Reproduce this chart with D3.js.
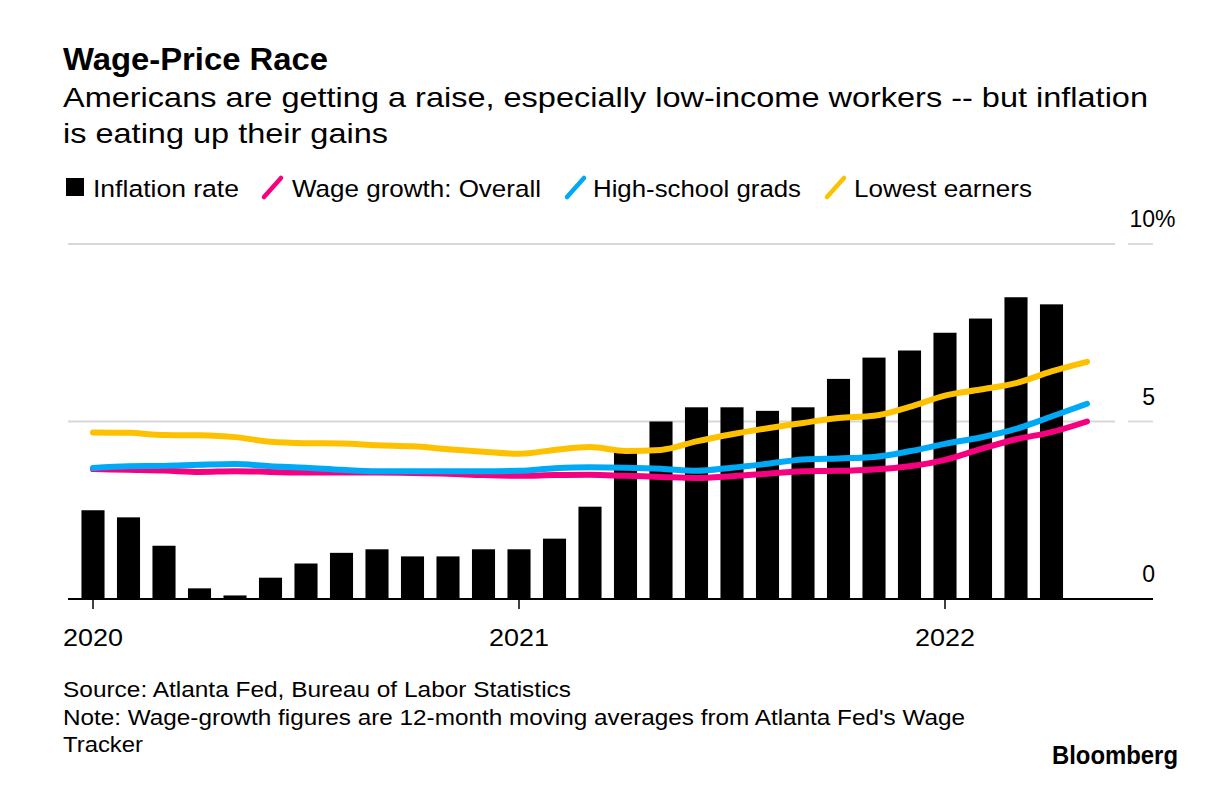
<!DOCTYPE html>
<html>
<head>
<meta charset="utf-8">
<script src="https://cdn.jsdelivr.net/npm/d3@7"></script>
<style>
  html, body { margin: 0; padding: 0; background: #fff; }
  svg { display: block; font-family: "Liberation Sans", Arial, Helvetica, sans-serif; }
</style>
</head>
<body>
<svg id="chart" width="1226" height="807"></svg>
<script>
// ---- data ----
const months = ["2020-01","2020-02","2020-03","2020-04","2020-05","2020-06","2020-07","2020-08","2020-09","2020-10","2020-11","2020-12",
                "2021-01","2021-02","2021-03","2021-04","2021-05","2021-06","2021-07","2021-08","2021-09","2021-10","2021-11","2021-12",
                "2022-01","2022-02","2022-03","2022-04","2022-05"];
const inflation = [2.5,2.3,1.5,0.3,0.1,0.6,1.0,1.3,1.4,1.2,1.2,1.4,
                   1.4,1.7,2.6,4.2,5.0,5.4,5.4,5.3,5.4,6.2,6.8,7.0,
                   7.5,7.9,8.5,8.3];
const wageOverall = [3.66,3.64,3.62,3.58,3.60,3.58,3.56,3.56,3.56,3.55,3.53,3.49,
                     3.47,3.49,3.50,3.47,3.44,3.41,3.46,3.53,3.60,3.61,3.65,3.74,
                     3.92,4.22,4.50,4.70,5.00];
const highSchool = [3.69,3.74,3.75,3.78,3.80,3.74,3.70,3.64,3.60,3.60,3.60,3.60,
                    3.61,3.68,3.71,3.70,3.67,3.61,3.70,3.81,3.93,3.96,4.00,4.16,
                    4.37,4.55,4.79,5.14,5.50];
const lowestEarners = [4.69,4.68,4.62,4.61,4.56,4.43,4.39,4.38,4.33,4.30,4.22,4.15,
                       4.09,4.20,4.28,4.17,4.20,4.44,4.64,4.81,4.96,5.10,5.16,5.41,
                       5.73,5.90,6.08,6.41,6.68];
const yTicks = [0, 5, 10];
const xTickMonths = ["2020-01","2021-01","2022-01"];
const xTickLabels = ["2020","2021","2022"];
const seriesNames = ["Inflation rate","Wage growth: Overall","High-school grads","Lowest earners"];
const colors = { overall: "#F7007F", high: "#00A9F5", lowest: "#FDC100", bar: "#000" };

// ---- layout ----
const svg = d3.select("#chart");
const x = d3.scalePoint().domain(months).range([93, 1087]);
const step = x.step();
const barW = step * 0.65;
const y = d3.scaleLinear().domain([0, 10]).range([599, 244]);

function fitText(sel, w) {
  return sel.attr("textLength", w).attr("lengthAdjust", "spacingAndGlyphs");
}

// title and subtitle
fitText(svg.append("text").attr("x", 63).attr("y", 70)
  .attr("font-size", 31).attr("font-weight", "bold").attr("fill", "#000")
  .text("Wage-Price Race"), 265);
fitText(svg.append("text").attr("x", 63).attr("y", 107).attr("font-size", 28.5).attr("fill", "#000")
  .text("Americans are getting a raise, especially low-income workers -- but inflation"), 1085);
fitText(svg.append("text").attr("x", 63).attr("y", 143).attr("font-size", 28.5).attr("fill", "#000")
  .text("is eating up their gains"), 325);

// legend
const lg = svg.append("g").attr("font-size", 24.5).attr("fill", "#000");
lg.append("rect").attr("x", 66).attr("y", 178).attr("width", 18).attr("height", 18).attr("fill", colors.bar);
fitText(lg.append("text").attr("x", 93).attr("y", 197).text(seriesNames[0]), 146);
const legendLines = [
  {x: 264, c: colors.overall, tx: 292, w: 249, name: seriesNames[1]},
  {x: 567, c: colors.high, tx: 593, w: 208, name: seriesNames[2]},
  {x: 827, c: colors.lowest, tx: 854, w: 178, name: seriesNames[3]}
];
legendLines.forEach(d => {
  lg.append("line").attr("x1", d.x).attr("y1", 197).attr("x2", d.x + 17).attr("y2", 178)
    .attr("stroke", d.c).attr("stroke-width", 4.5).attr("stroke-linecap", "round");
  fitText(lg.append("text").attr("x", d.tx).attr("y", 197).text(d.name), d.w);
});

// gridlines (non-zero)
const grid = svg.append("g");
yTicks.filter(t => t !== 0).forEach(t => {
  grid.append("line").attr("x1", 68).attr("x2", 1115).attr("y1", y(t)).attr("y2", y(t))
    .attr("stroke", "#d8d8d8").attr("stroke-width", 1.8);
  grid.append("line").attr("x1", 1128).attr("x2", 1153).attr("y1", y(t)).attr("y2", y(t))
    .attr("stroke", "#d8d8d8").attr("stroke-width", 1.8);
});

// y labels
const yl = svg.append("g").attr("font-size", 23).attr("fill", "#000");
yTicks.forEach(t => {
  yl.append("text").attr("x", 1155).attr("y", y(t) - 17).attr("text-anchor", "end").text(t);
  if (t === 10) yl.append("text").attr("x", 1155).attr("y", y(t) - 17).text("%");
});

// bars
svg.append("g").selectAll("rect").data(inflation).join("rect")
  .attr("x", (d, i) => x(months[i]) - barW / 2)
  .attr("y", d => y(d))
  .attr("width", barW)
  .attr("height", d => y(0) - y(d))
  .attr("fill", colors.bar);

// baseline and ticks
svg.append("line").attr("x1", 68).attr("x2", 1153).attr("y1", y(0)).attr("y2", y(0))
  .attr("stroke", "#000").attr("stroke-width", 2);
const xt = svg.append("g");
xTickMonths.forEach((m, i) => {
  xt.append("line").attr("x1", x(m)).attr("x2", x(m)).attr("y1", y(0)).attr("y2", y(0) + 10)
    .attr("stroke", "#000").attr("stroke-width", 1.5);
  fitText(xt.append("text").attr("x", x(m) - 30).attr("y", 646)
    .attr("font-size", 24).attr("fill", "#000").text(xTickLabels[i]), 60);
});

// lines
const line = d3.line().x((d, i) => x(months[i])).y(d => y(d)).curve(d3.curveMonotoneX);
[[wageOverall, colors.overall], [highSchool, colors.high], [lowestEarners, colors.lowest]].forEach(([data, c]) => {
  svg.append("path").datum(data).attr("d", line)
    .attr("fill", "none").attr("stroke", c).attr("stroke-width", 6)
    .attr("stroke-linecap", "round").attr("stroke-linejoin", "round");
});

// footer
const ft = svg.append("g").attr("font-size", 22).attr("fill", "#000");
fitText(ft.append("text").attr("x", 63).attr("y", 697).text("Source: Atlanta Fed, Bureau of Labor Statistics"), 508);
fitText(ft.append("text").attr("x", 63).attr("y", 725).text("Note: Wage-growth figures are 12-month moving averages from Atlanta Fed's Wage"), 902);
fitText(ft.append("text").attr("x", 63).attr("y", 752).text("Tracker"), 80);
fitText(svg.append("text").attr("x", 1052).attr("y", 764)
  .attr("font-size", 25).attr("font-weight", "bold")
  .attr("fill", "#000").text("Bloomberg"), 126);
</script>
</body>
</html>
